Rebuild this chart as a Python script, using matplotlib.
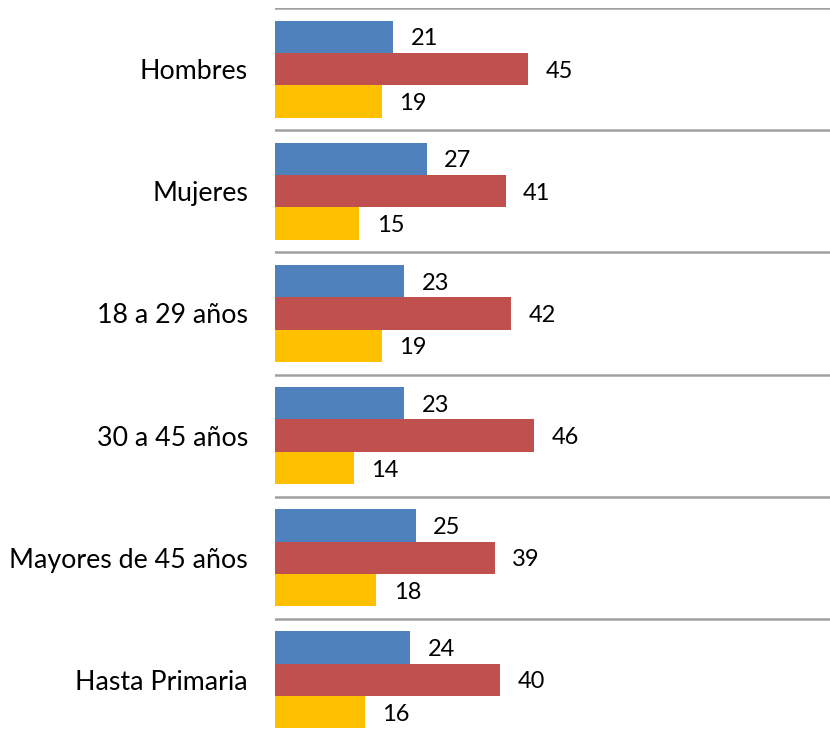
import numpy as np
import matplotlib
matplotlib.use("Agg")
import matplotlib.pyplot as plt

plt.rcParams['font.family'] = ['Lato', 'DejaVu Sans']

categories = ["Hombres", "Mujeres", "18 a 29 años", "30 a 45 años",
              "Mayores de 45 años", "Hasta Primaria"]
serie_azul = [21, 27, 23, 23, 25, 24]
serie_roja = [45, 41, 42, 46, 39, 40]
serie_amarilla = [19, 15, 19, 14, 18, 16]

colores = ["#4F81BD", "#C0504D", "#FFC000"]

fig = plt.figure(figsize=(8.3, 7.38), dpi=100)
ax = fig.add_axes([275 / 830, -3 / 738, 1 - 275 / 830, 1 - 8 / 738 + 3 / 738])

y = np.arange(len(categories))
h = 0.265
series = [serie_azul, serie_roja, serie_amarilla]
for k, (vals, col) in enumerate(zip(series, colores)):
    pos = y + (k - 1) * h
    ax.barh(pos, vals, height=h, color=col, zorder=2)
    for p, v in zip(pos, vals):
        ax.annotate(str(v), (v, p), xytext=(12.5, -1.5), textcoords="offset points",
                    ha="left", va="center", fontsize=17)

for b in np.arange(-0.5, len(categories) + 0.5, 1.0):
    ax.axhline(b, color="#A0A0A0", lw=1.8, zorder=1)

ax.set_xlim(0, 98.6)
ax.set_ylim(len(categories) - 0.5, -0.5)
ax.set_yticks(y)
ax.set_yticklabels(categories, fontsize=19.3)
ax.tick_params(axis="y", length=0, pad=19.5)
ax.set_xticks([])
for s in ax.spines.values():
    s.set_visible(False)

fig.savefig("out.png", dpi=100)
